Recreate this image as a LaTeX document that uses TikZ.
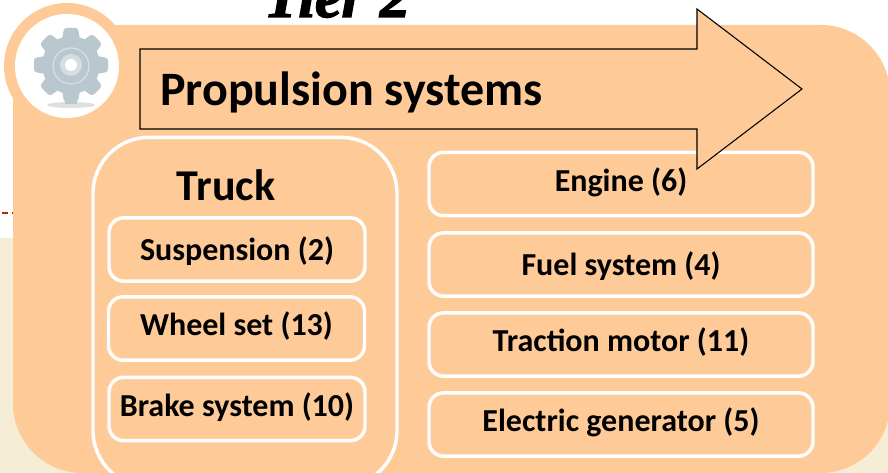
\documentclass[tikz,border=0pt]{standalone}
\usepackage{fontspec}
\setmainfont{Carlito}
\newfontfamily\tierfont[FakeBold=2.5]{Liberation Serif}
\definecolor{panelfill}{HTML}{FECB98}
\definecolor{creamfill}{HTML}{F6EDD6}
\definecolor{geargrey}{HTML}{B9C8CE}
\definecolor{dashred}{HTML}{A92B08}
\tikzset{
    itembox/.style={draw=white, line width=2.6pt, rounded corners=11pt, minimum height=47.5pt, inner sep=0pt, font=\bfseries\fontsize{24}{28}\selectfont},
    wideitem/.style={itembox, minimum width=288pt},
    narrowitem/.style={itembox, minimum width=192pt},
    lowered/.style={text height=22.5pt, text depth=5.5pt},
    nudged/.style={text height=18pt, text depth=7pt},
}
\begin{document}
\begin{tikzpicture}[x=0.75pt, y=-0.75pt]
    \useasboundingbox (0, 0) rectangle (888, 473);
    \clip (0, 0) rectangle (888, 473);
    \fill [creamfill] (0, 238) rectangle (888, 473);
    \draw [dashred, line width=1.2pt, dash pattern=on 4.5pt off 3pt] (2, 213) -- (13, 213);

    % panel with the circle behind the gear
    \fill [panelfill, rounded corners=52pt] (13, 25) -- (13, 473) -- (890, 473) -- (890, 25) -- cycle;
    \fill [panelfill] (67, 66) circle [radius=63];
    \fill [white] (67, 66) circle [radius=52];

    % gear
    \fill [gray!25] (71, 105) ellipse [x radius=24, y radius=3];
    \fill [geargrey] (71, 65) circle [radius=29];
    \foreach \a in {0, 45, ..., 315}
        \fill [geargrey, rotate around={\a:(71, 65)}, rounded corners=2pt] (62, 40) -- (64, 28) -- (78, 28) -- (80, 40) -- cycle;
    \fill [geargrey] (65, 90) rectangle (77, 104);
    \draw [white!40!geargrey, line width=1pt] (71, 66) circle [radius=18];
    \fill [white!40!geargrey] (71, 65) circle [radius=11];
    \fill [white] (71, 65) circle [radius=6];

    % tier
    \node (tier) [anchor=base, inner sep=0pt, font=\tierfont\bfseries\itshape\fontsize{45}{52}\selectfont] at (337, 17) {Tier 2};

    % truck group
    \node (truck) [draw=white, line width=2.6pt, rounded corners=42pt, minimum width=228pt, minimum height=262pt, inner sep=0pt] at (245, 312) {};
    \node (trucklabel) [font=\bfseries\fontsize{33}{38}\selectfont] at (226, 185) {Truck};
    \node (suspension) [narrowitem, lowered] at (237, 249.5) {Suspension (2)};
    \node (wheelset) [narrowitem, nudged] at (236.5, 328.5) {Wheel set (13)};
    \node (brake) [narrowitem, nudged] at (237, 409) {Brake system (10)};

    % right column
    \node (engine) [wideitem, nudged] at (621, 184) {Engine (6)};
    \node (fuel) [wideitem, lowered] at (621, 264.5) {Fuel system (4)};
    \node (traction) [wideitem, nudged] at (621, 344.5) {Traction motor (11)};
    \node (generator) [wideitem, nudged] at (621, 424.5) {Electric generator (5)};

    % arrow
    \draw [black, line width=0.8pt, fill=panelfill, line join=miter] (140, 49) -- (697, 49) -- (697, 9) -- (802, 89) -- (697, 169) -- (697, 129) -- (140, 129) -- cycle;
    \node (title) [anchor=west, inner sep=0pt, font=\bfseries\fontsize{36}{42}\selectfont] at (160, 92) {Propulsion systems};
\end{tikzpicture}
\end{document}
